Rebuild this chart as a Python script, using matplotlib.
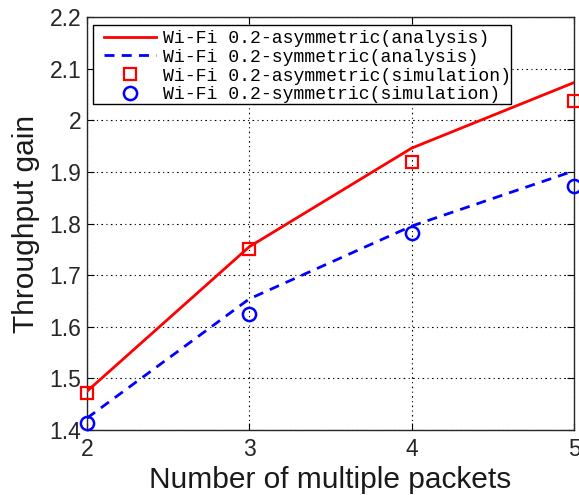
import matplotlib
matplotlib.use("Agg")
import matplotlib.pyplot as plt
from matplotlib.patches import Rectangle

packets = [2, 3, 4, 5]
asym_analysis = [1.475, 1.755, 1.946, 2.073]
sym_analysis = [1.423, 1.654, 1.795, 1.902]
asym_sim = [1.471, 1.750, 1.920, 2.038]
sym_sim = [1.413, 1.624, 1.781, 1.873]
labels = ["Wi-Fi 0.2-asymmetric(analysis)",
          "Wi-Fi 0.2-symmetric(analysis)",
          "Wi-Fi 0.2-asymmetric(simulation)",
          "Wi-Fi 0.2-symmetric(simulation)"]
yticks = [1.4, 1.5, 1.6, 1.7, 1.8, 1.9, 2.0, 2.1, 2.2]
ytick_labels = ["1.4", "1.5", "1.6", "1.7", "1.8", "1.9", "2", "2.1", "2.2"]

W, H = 579, 495
plt.rcParams['font.family'] = ['Liberation Sans', 'DejaVu Sans']
fig = plt.figure(figsize=(W / 100, H / 100), dpi=100)
ax = fig.add_axes([87 / W, 65 / H, 487 / W, 413 / H])

ax.plot(packets, asym_analysis, color='#ff0000', lw=2, label=labels[0], zorder=3)
ax.plot(packets, sym_analysis, color='#0000ff', lw=2, ls=(0, (3.6, 2.6)), label=labels[1], zorder=3)
ax.plot(packets, asym_sim, ls='none', marker='s', ms=8, mfc='none', mec='#ff0000', mew=1.6,
        label=labels[2], zorder=4, clip_on=False)
ax.plot(packets, sym_sim, ls='none', marker='o', ms=9.5, mfc='none', mec='#0000ff', mew=1.8,
        label=labels[3], zorder=4, clip_on=False)

ax.set_xlim(2, 5)
ax.set_ylim(1.4, 2.2)
ax.set_xticks(packets)
ax.set_yticks(yticks)
ax.set_yticklabels(ytick_labels)
ax.tick_params(direction='in', top=True, right=True, length=5, width=0.8,
               labelsize=16.5, labelcolor='#262626')
ax.tick_params(axis='x', pad=6)
ax.tick_params(axis='y', pad=4)
ax.grid(True, color='black', ls=(0, (1, 3, 1.5, 3)), lw=0.8)
for s in ax.spines.values():
    s.set_linewidth(1.0)
    s.set_color('#262626')

ax.set_xlabel("Number of multiple packets", fontsize=21.5, color='#1a1a1a', labelpad=3)
ax.set_ylabel("Throughput gain", fontsize=21.5, color='#1a1a1a', labelpad=7)

# legend frame (MATLAB-style box, tight on the right)
frame = Rectangle((93 / W, 1 - 104 / H), (511 - 93) / W, (104 - 25) / H,
                  transform=fig.transFigure, facecolor='white', edgecolor='black',
                  lw=1.0, zorder=5, clip_on=False)
ax.add_patch(frame)

leg = ax.legend(loc='upper left', bbox_to_anchor=(104 / W, 1 - 30 / H),
                bbox_transform=fig.transFigure, borderaxespad=0,
                prop={'family': 'Liberation Mono', 'size': 13.1}, frameon=False,
                labelspacing=0.1, handlelength=2.86, handletextpad=0.38, borderpad=0)
leg.set_zorder(6)

fig.savefig("out.png", dpi=100)
